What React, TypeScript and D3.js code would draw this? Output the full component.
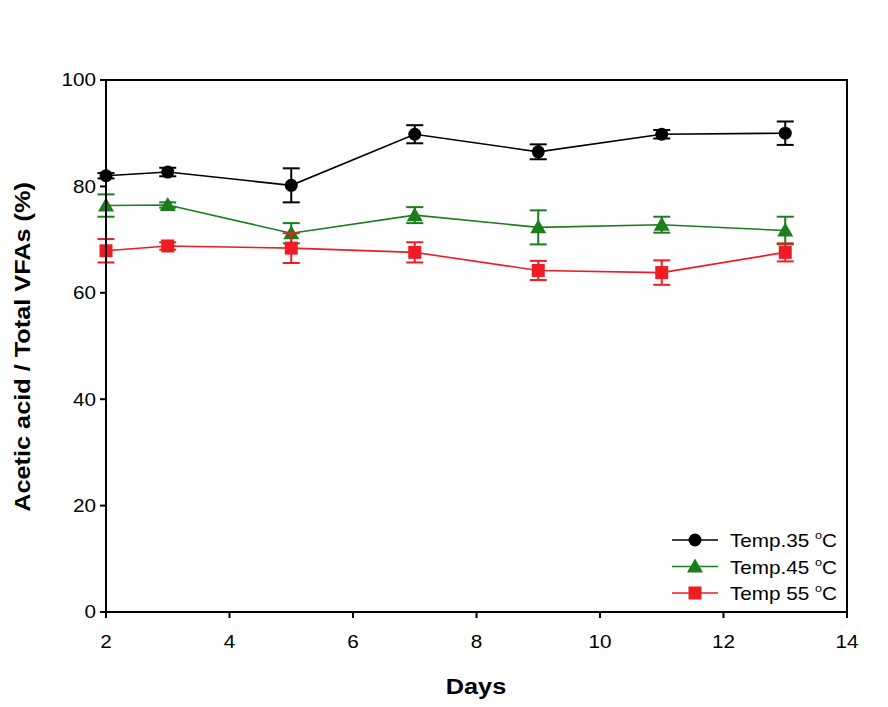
import React from "react";
import * as d3 from "d3";

const days = [2, 3, 5, 7, 9, 11, 13];
const temp35 = [82.0, 82.7, 80.2, 89.8, 86.5, 89.8, 90.0];
const temp35Err = [0.5, 0.8, 3.2, 1.7, 1.4, 0.8, 2.2];
const temp45 = [76.4, 76.5, 71.2, 74.6, 72.3, 72.8, 71.7];
const temp45Err = [2.1, 0.5, 1.9, 1.5, 3.2, 1.5, 2.6];
const temp55 = [67.9, 68.8, 68.4, 67.6, 64.2, 63.8, 67.6];
const temp55Err = [2.2, 0.7, 2.8, 1.9, 1.8, 2.3, 1.7];
const xTicks = [2, 4, 6, 8, 10, 12, 14];
const yTicks = [0, 20, 40, 60, 80, 100];
const seriesNames = ["Temp.35 ", "Temp.45 ", "Temp 55 "];

const W = 888, H = 707;
const left = 106, right = 847, top = 80, bottom = 612;
const SX = 1.15;

export default function App() {
  const x = d3.scaleLinear().domain([2, 14]).range([left, right]);
  const y = d3.scaleLinear().domain([0, 100]).range([bottom, top]);
  const line = d3.line<number>().x((_, i) => x(days[i])).y((d) => y(d));

  const series = [
    { name: seriesNames[0], vals: temp35, err: temp35Err, color: "#000000", shape: "circle" },
    { name: seriesNames[1], vals: temp45, err: temp45Err, color: "#1b7d1b", shape: "triangle" },
    { name: seriesNames[2], vals: temp55, err: temp55Err, color: "#ee1c24", shape: "square" },
  ];

  const marker = (shape: string, cx: number, cy: number, color: string, key: string) => {
    if (shape === "circle") return <circle key={key} cx={cx} cy={cy} r={6.5} fill={color} />;
    if (shape === "triangle") {
      const s = 8;
      return <path key={key} d={`M${cx},${cy - s}L${cx + s},${cy + s * 0.75}L${cx - s},${cy + s * 0.75}Z`} fill={color} />;
    }
    return <rect key={key} x={cx - 6.5} y={cy - 6.5} width={13} height={13} fill={color} />;
  };

  const font = "Arial, 'Liberation Sans', sans-serif";

  return (
    <svg width={W} height={H} style={{ display: "block", position: "absolute", left: 0, top: 0, background: "#fff" }} fontFamily={font}>
      <rect width={W} height={H} fill="#fff" />
      {series.map((s, si) => (
        <g key={si}>
          <path d={line(s.vals) || ""} fill="none" stroke={s.color} strokeWidth={1.6} />
          {s.vals.map((v, i) => {
            const cx = x(days[i]);
            const y1 = y(v + s.err[i]);
            const y2 = y(v - s.err[i]);
            return (
              <g key={i} stroke={s.color} strokeWidth={2}>
                <line x1={cx} x2={cx} y1={y1} y2={y2} />
                <line x1={cx - 8.5} x2={cx + 8.5} y1={y1} y2={y1} />
                <line x1={cx - 8.5} x2={cx + 8.5} y1={y2} y2={y2} />
              </g>
            );
          })}
          {s.vals.map((v, i) => marker(s.shape, x(days[i]), y(v), s.color, `m${i}`))}
        </g>
      ))}
      <rect x={left} y={top} width={right - left} height={bottom - top} fill="none" stroke="#000" strokeWidth={2} />
      {yTicks.map((t) => (
        <g key={t}>
          <line x1={left - 6} x2={left} y1={y(t)} y2={y(t)} stroke="#000" strokeWidth={2} />
          <text transform={`translate(${left - 10},${y(t)}) scale(${SX},1)`} dy="0.36em" textAnchor="end" fontSize={18}>{t}</text>
        </g>
      ))}
      {xTicks.map((t) => (
        <g key={t}>
          <line x1={x(t)} x2={x(t)} y1={bottom} y2={bottom + 6} stroke="#000" strokeWidth={2} />
          <text transform={`translate(${x(t)},${bottom + 36}) scale(${SX},1)`} textAnchor="middle" fontSize={18}>{t}</text>
        </g>
      ))}
      <text transform={`translate(476,694) scale(${SX},1)`} textAnchor="middle" fontSize={22} fontWeight="bold">Days</text>
      <text transform={`translate(30,${(top + bottom) / 2 + 1}) rotate(-90) scale(${SX},1)`} textAnchor="middle" fontSize={22} fontWeight="bold">
        Acetic acid / Total VFAs (%)
      </text>
      {series.map((s, i) => {
        const ly = 540 + i * 26.5;
        return (
          <g key={i}>
            <line x1={672} x2={718} y1={ly} y2={ly} stroke={s.color} strokeWidth={1.6} />
            {marker(s.shape, 695, ly, s.color, "lm")}
            <text transform={`translate(730,${ly + 7}) scale(${SX},1)`} fontSize={18}>
              {s.name}
              <tspan fontSize={11} dy={-8}>o</tspan>
              <tspan dy={8}>C</tspan>
            </text>
          </g>
        );
      })}
    </svg>
  );
}
